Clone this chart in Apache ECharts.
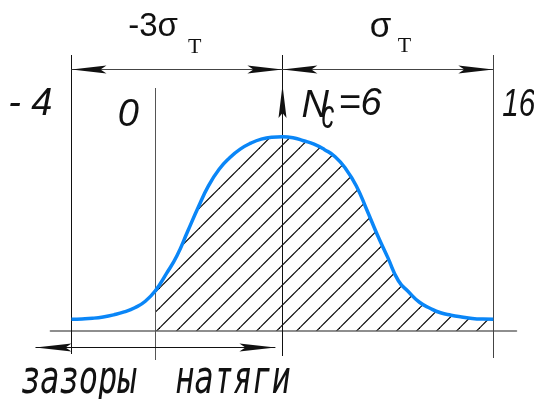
<!DOCTYPE html>
<html>
<head>
<meta charset="utf-8">
<script src="https://cdn.jsdelivr.net/npm/echarts@6/dist/echarts.min.js"></script>
<style>
  html, body { margin: 0; padding: 0; background: #fff; }
  #chart { width: 534px; height: 399px; }
</style>
</head>
<body>
<div id="chart"></div>
<script>
// Fit size (µm) along the horizontal axis and the distribution density curve
const sizeX = [-4, -3.5, -3, -2.5, -2, -1.5, -1, -0.5, 0, 0.5, 1, 1.5, 2, 2.5, 3, 3.5, 4,
  4.5, 5, 5.5, 6, 6.5, 7, 7.5, 8, 8.5, 9, 9.5, 10, 10.5, 11, 11.5, 12, 12.5, 13, 13.5,
  14, 14.5, 15, 15.5, 16];
const density = [0.0071, 0.0073, 0.0077, 0.0085, 0.0098, 0.0116, 0.0142, 0.0182, 0.0251,
  0.0353, 0.0464, 0.0612, 0.0761, 0.0897, 0.0999, 0.1070, 0.1123, 0.1160, 0.1185, 0.1197,
  0.1200, 0.1194, 0.1175, 0.1154, 0.1120, 0.1076, 0.1002, 0.0897, 0.0748, 0.0594, 0.0452,
  0.0309, 0.0238, 0.0176, 0.0139, 0.0111, 0.0096, 0.0085, 0.0076, 0.0072, 0.0071];

// Characteristic sizes: lower limit, zero fit, mean fit, upper limit
const lowerLimit = -4;
const zeroFit = 0;
const meanFit = 6;
const upperLimit = 16;

// Label texts
const limitLabels = ['- 4', '0', '16'];
const meanLabel = ['N', 'c', '=6'];
const spanLabels = ['-3σ', 'σ'];
const spanSub = 'T';
const zoneLabel = 'зазоры  натяги';

const curveData = sizeX.map((x, i) => [x, density[i]]);
// interference zone (sizes from the zero fit upward) is hatched
const hatchData = curveData.filter(p => p[0] >= zeroFit);

// Diagonal hatch tile
function hatchTile() {
  const c = document.createElement('canvas');
  c.width = 20; c.height = 20;
  const g = c.getContext('2d');
  g.strokeStyle = '#000';
  g.lineWidth = 1.15;
  const phase = 7.5;
  for (let k = -1; k <= 2; k++) {
    const s = phase + 20 * k;
    g.beginPath();
    g.moveTo(-5, s + 5);
    g.lineTo(s + 5, -5);
    g.stroke();
  }
  return c;
}

const sans = "'Liberation Sans', Arial, sans-serif";
const serif = "'Liberation Serif', 'Times New Roman', serif";
const mono = "'DejaVu Sans Mono', monospace";

function arrowHead(tx, ty, ux, uy, len, hw, notch) {
  const bx = tx - ux * len, by = ty - uy * len;
  const nx = -uy, ny = ux;
  return {
    type: 'polygon',
    shape: { points: [
      [tx, ty],
      [bx + nx * hw, by + ny * hw],
      [tx - ux * (len - notch), ty - uy * (len - notch)],
      [bx - nx * hw, by - ny * hw]
    ] },
    style: { fill: '#111' }
  };
}

function txt(text, x, y, font, align, extra) {
  return Object.assign({
    type: 'text', x: x, y: y,
    style: { text: text, x: 0, y: 0, font: font, fill: '#111', align: align, verticalAlign: 'middle' }
  }, extra || {});
}

function renderAnnotations(params, api) {
  const px = v => api.coord([v, 0])[0];
  const snap = v => Math.round(v - 0.5) + 0.5;
  const out = [];

  // extension lines at the characteristic sizes
  const marks = [lowerLimit, zeroFit, meanFit, upperLimit];
  const tops = [55, 88, 55, 55];
  const bottoms = [354, 360, 356, 358];
  const colors = ['#111', '#555', '#111', '#444'];
  marks.forEach((v, i) => {
    const x = snap(px(v));
    out.push({ type: 'line', shape: { x1: x, y1: tops[i], x2: x, y2: bottoms[i] },
      style: { stroke: colors[i], lineWidth: 1 } });
  });

  // upper dimension line: -3σ and σ spans
  const yd = 69.5;
  const xL = px(lowerLimit), xM = px(meanFit), xU = px(upperLimit), x0 = px(zeroFit);
  out.push({ type: 'line', shape: { x1: xL, y1: yd, x2: xU, y2: yd }, style: { stroke: '#444', lineWidth: 1 } });
  out.push(arrowHead(xL, yd, -1, 0, 35, 4, 6));
  out.push(arrowHead(xM, yd, 1, 0, 35, 4, 6));
  out.push(arrowHead(xM, yd, -1, 0, 35, 4, 6));
  out.push(arrowHead(xU, yd, 1, 0, 35, 4, 6));

  // upward arrow at the mean fit
  out.push(arrowHead(snap(xM), 85, 0, -1, 33, 4, 5));

  // lower arrow: clearances / interferences
  const yb = 347.5;
  const bl = xL - 36, br = xM - 7;
  out.push({ type: 'line', shape: { x1: bl, y1: yb, x2: br, y2: yb }, style: { stroke: '#111', lineWidth: 1 } });
  out.push(arrowHead(bl, yb, -1, 0, 36, 4, 6));
  out.push(arrowHead(br, yb, 1, 0, 36, 4, 6));

  // span labels
  const mid1 = (xL + xM) / 2, mid2 = (xM + xU) / 2;
  out.push(txt(spanLabels[0], mid1 + 1, 27, '33px ' + sans, 'right'));
  out.push(txt(spanSub, mid1 + 11, 47.5, '22px ' + serif, 'left'));
  out.push(txt(spanLabels[1], mid2 - 18, 27, '35px ' + sans, 'left'));
  out.push(txt(spanSub, mid2 + 10, 46.5, '22px ' + serif, 'left'));

  // size labels
  const it = 'italic 38px ' + sans;
  out.push(txt(limitLabels[0], xL - 19, 104, it, 'right'));
  out.push(txt(limitLabels[1], x0 - 17, 115.5, it, 'right'));
  out.push(txt(limitLabels[2], xU + 9, 105, it, 'left', { scaleX: 0.78 }));
  out.push(txt(meanLabel[0], xM + 19, 106, it, 'left'));
  out.push(txt(meanLabel[1], xM + 39, 117, 'italic 30px ' + sans, 'left', { scaleX: 0.85, scaleY: 1.35 }));
  out.push(txt(meanLabel[2], xM + 56, 104, it, 'left'));

  // zone caption
  out.push(txt(zoneLabel, 21, 380.5, 'italic 32px ' + mono, 'left', { scaleY: 1.45 }));

  return { type: 'group', children: out };
}

const chart = echarts.init(document.getElementById('chart'), null, { renderer: 'canvas' });
chart.setOption({
  animation: false,
  backgroundColor: '#fff',
  grid: { left: 50.4, right: 17.5, top: 39.7, bottom: 68.3 },
  xAxis: {
    type: 'value', min: -5, max: 17.1,
    axisLine: { show: true, lineStyle: { color: '#6a6a6a', width: 1.5 } },
    axisTick: { show: false }, axisLabel: { show: false }, splitLine: { show: false }
  },
  yAxis: { type: 'value', min: 0, max: 0.18, show: false },
  series: [
    {
      type: 'line', data: hatchData, smooth: 0.5, showSymbol: false, z: 2, silent: true,
      lineStyle: { width: 0, opacity: 0 },
      areaStyle: { color: { image: hatchTile(), repeat: 'repeat' }, opacity: 1 }
    },
    {
      type: 'custom', data: [[0, 0]], z: 3, silent: true, clip: false,
      renderItem: renderAnnotations
    },
    {
      type: 'line', data: curveData, smooth: 0.5, showSymbol: false, z: 5, silent: true,
      lineStyle: { color: '#0a86f7', width: 3.5 }
    }
  ]
});
</script>
</body>
</html>
